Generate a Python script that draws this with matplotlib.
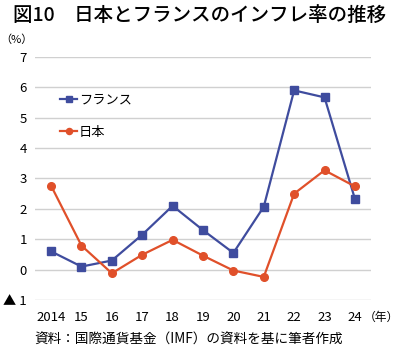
import numpy as np
import matplotlib.pyplot as plt

plt.rcParams['font.family'] = ['Noto Sans CJK JP', 'DejaVu Sans']

years = ['2014', '15', '16', '17', '18', '19', '20', '21', '22', '23', '24']
france = [0.6, 0.1, 0.3, 1.15, 2.1, 1.3, 0.55, 2.07, 5.9, 5.67, 2.33]
japan = [2.76, 0.79, -0.12, 0.49, 0.98, 0.46, -0.03, -0.24, 2.5, 3.27, 2.74]
yticks = [-1, 0, 1, 2, 3, 4, 5, 6, 7]
ylabels = ['▲ 1', '0', '1', '2', '3', '4', '5', '6', '7']

blue = '#3f4c9e'
red = '#e0502a'

fig = plt.figure(figsize=(4, 3.49), dpi=100)
ax = fig.add_axes([0.0875, 0.1404, 0.84, 0.6963])

x = np.arange(len(years))
ax.plot(x, france, color=blue, lw=1.6, marker='s', ms=5.5, label='フランス')
ax.plot(x, japan, color=red, lw=1.6, marker='o', ms=5.5, label='日本')

ax.set_xlim(-0.53, len(years) - 1 + 0.53)
ax.set_ylim(-1, 7)
ax.set_yticks(yticks)
ax.set_yticklabels(ylabels, fontsize=9.5)
ax.set_xticks(x)
ax.set_xticklabels(years, fontsize=9.5)
ax.grid(axis='y', color='#d0d0d0', lw=1)
ax.set_axisbelow(True)
for s in ax.spines.values():
    s.set_visible(False)
ax.tick_params(length=0, pad=8)
ax.tick_params(axis='y', pad=6)

ax.legend(loc='upper left', bbox_to_anchor=(0.04, 0.9), frameon=False,
          fontsize=9.5, handlelength=1.3, handletextpad=0.1, labelspacing=1.5,
          markerscale=0.8)

fig.text(0.5, 0.957, '図10　日本とフランスのインフレ率の推移', ha='center', va='center',
         fontsize=14, fontweight='medium')
fig.text(0.0, 0.885, '（%）', ha='left', va='center', fontsize=8)
fig.text(0.998, 0.0917, '（年）', ha='right', va='center', fontsize=8.5)
fig.text(0.085, 0.028, '資料：国際通貨基金（IMF）の資料を基に筆者作成', ha='left',
         va='center', fontsize=9.8)

fig.savefig('out.png', dpi=100)
